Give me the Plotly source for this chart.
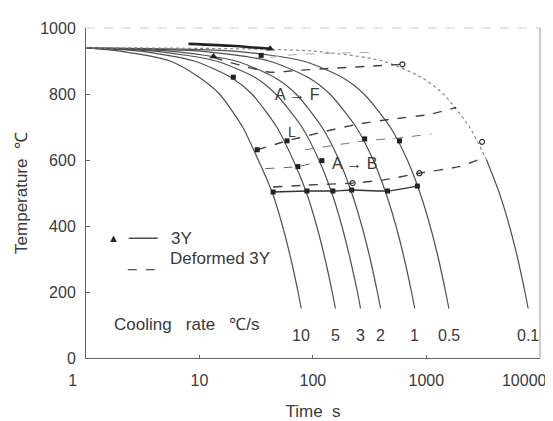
import math
import plotly.graph_objects as go

# ---------------- data ----------------
COOL_RATES = [10, 5, 3, 2, 1, 0.5, 0.1]
RATE_LABELS = ["10", "5", "3", "2", "1", "0.5", "0.1"]
COOL_TEMP = [940, 930, 900, 850, 800, 700, 600, 500, 400, 300, 200, 150]
t_r10 = [1, 2, 5.5, 10, 15, 24, 33, 44, 54, 64, 74, 79]
t_r5 = [1, 3, 9, 19, 29, 48, 67, 88, 108, 128, 148, 158]
t_r3 = [1, 4, 14, 31, 47, 80, 113, 147, 180, 213, 247, 263]
t_r2 = [1, 5.5, 21, 46, 71, 120, 170, 220, 270, 320, 370, 395]
t_r1 = [1, 10, 41, 91, 141, 240, 340, 440, 540, 640, 740, 790]
t_r05 = [1, 20, 82, 182, 282, 480, 680, 880, 1080, 1280, 1480, 1580]
t_r01 = [1, 100, 410, 910, 1410, 2400, 3400, 4400, 5400, 6400, 7400, 7900]
COOL_TIMES = [t_r10, t_r5, t_r3, t_r2, t_r1, t_r05, t_r01]

# 3Y (undeformed) transformation lines
fs3y_t = [8, 19, 42]
fs3y_T = [952, 946, 937]
ps3y_t = [85, 286, 580, 1106]
ps3y_T = [631, 658, 667, 679]
bs3y_t = [38, 74, 120]
bs3y_T = [574, 580, 598]
bf3y_t = [44.6, 88.6, 150, 220, 455, 834]
bf3y_T = [503, 506, 506, 509, 506, 521]
tri3y_t = [13.3, 42]
tri3y_T = [914, 937]
pts3y_t = [35, 19.9, 32.3, 59.2, 286, 580, 73.8, 120]
pts3y_T = [917, 851, 631, 658, 664, 658, 580, 598]

# deformed 3Y transformation lines
fsd_t = [13.3, 22.9, 42, 77, 150, 615]
fsd_T = [911, 887, 866, 872, 878, 890]
ac_t = [42, 72, 316]
ac_T = [911, 920, 926]
psd_t = [32.3, 59.2, 133, 243, 474, 1062, 1833]
psd_T = [631, 658, 688, 708, 723, 738, 759]
bsd_t = [44.6, 88.6, 224, 411, 868, 1946, 3360]
bsd_T = [518, 524, 530, 539, 560, 580, 610]
ptsd_t = [615, 3099, 224, 868]
ptsd_T = [890, 655, 530, 560]

X_TICKS = [1, 10, 100, 1000, 10000]
X_TICKTEXT = ["1", "10", "100", "1000", "10000"]
Y_TICKS = [0, 200, 400, 600, 800, 1000]

FONT = "Liberation Sans, Arial, sans-serif"
TXT = "#3a3a3a"
NB = "\u00a0"

fig = go.Figure()

for times, rate in zip(COOL_TIMES, COOL_RATES):
    if rate == COOL_RATES[-1]:
        # slowest curve: faint dotted in its upper part, solid below
        k = COOL_TEMP.index(600)
        fig.add_trace(go.Scatter(x=times[:k + 1], y=COOL_TEMP[:k + 1], mode="lines",
                                 line=dict(color="#888", width=1.2, dash="dot", shape="spline", smoothing=0.7),
                                 showlegend=False, hoverinfo="skip"))
        fig.add_trace(go.Scatter(x=times[k:], y=COOL_TEMP[k:], mode="lines",
                                 line=dict(color="#505050", width=1.2, shape="spline", smoothing=0.7),
                                 showlegend=False, hoverinfo="skip"))
    else:
        fig.add_trace(go.Scatter(x=times, y=COOL_TEMP, mode="lines",
                                 line=dict(color="#505050", width=1.2, shape="spline", smoothing=0.7),
                                 showlegend=False, hoverinfo="skip"))

def line(t, T, dash="solid", width=1.3, color="#333"):
    fig.add_trace(go.Scatter(x=t, y=T, mode="lines",
                             line=dict(color=color, width=width, dash=dash, shape="spline", smoothing=0.5),
                             showlegend=False, hoverinfo="skip"))

line(fs3y_t, fs3y_T, "solid", 2.6, "#222")
line(ps3y_t, ps3y_T, "dash", 1.0, "#777")
line(bs3y_t, bs3y_T, "dash", 1.0, "#666")
line(bf3y_t, bf3y_T, "solid", 1.4, "#333")
line(fsd_t, fsd_T, "dash", 1.4, "#444")
line(ac_t, ac_T, "dash", 1.0, "#aaa")
line(psd_t, psd_T, "dash", 1.4, "#444")
line(bsd_t, bsd_T, "dash", 1.4, "#444")

fig.add_trace(go.Scatter(x=tri3y_t, y=tri3y_T, mode="markers",
                         marker=dict(symbol="triangle-up", size=7, color="#222"),
                         showlegend=False, hoverinfo="skip"))
fig.add_trace(go.Scatter(x=pts3y_t, y=pts3y_T, mode="markers",
                         marker=dict(symbol="square", size=5, color="#222"),
                         showlegend=False, hoverinfo="skip"))
fig.add_trace(go.Scatter(x=bf3y_t, y=bf3y_T, mode="markers",
                         marker=dict(symbol="square", size=5, color="#222"),
                         showlegend=False, hoverinfo="skip"))
fig.add_trace(go.Scatter(x=ptsd_t, y=ptsd_T, mode="markers",
                         marker=dict(symbol="circle-open", size=5, color="#333", line=dict(width=1.2)),
                         showlegend=False, hoverinfo="skip"))

ann = []
# region labels
ann.append(dict(x=1.86, y=798, xref="x", yref="y", text="A → F", showarrow=False,
                xanchor="center", font=dict(size=16, color=TXT, family=FONT)))
ann.append(dict(x=1.816, y=685, xref="x", yref="y", text="L", showarrow=False,
                xanchor="center", font=dict(size=14, color=TXT, family=FONT)))
ann.append(dict(x=2.368, y=589, xref="x", yref="y", text="A → B", showarrow=False,
                xanchor="center", font=dict(size=16, color=TXT, family=FONT)))
# cooling-rate labels at the ends of the curves
for times, lab in zip(COOL_TIMES, RATE_LABELS):
    ann.append(dict(x=math.log10(times[-1]), y=68, xref="x", yref="y", text=lab, showarrow=False,
                    xanchor="center", font=dict(size=16, color=TXT, family=FONT)))
ann.append(dict(x=0.222, y=0.068, xref="paper", yref="paper", text="Cooling   rate   ℃/s",
                xanchor="center", showarrow=False, font=dict(size=17, color=TXT, family=FONT)))
# manual legend
ann.append(dict(x=0.0615, y=0.363, xref="paper", yref="paper", text="▲", showarrow=False,
                xanchor="center", font=dict(size=11, color="#222", family=FONT)))
ann.append(dict(x=0.182, y=0.363, xref="paper", yref="paper", text="3Y", showarrow=False,
                xanchor="left", font=dict(size=17, color=TXT, family=FONT)))
ann.append(dict(x=0.180, y=0.268, xref="paper", yref="paper", text="Deformed 3Y", showarrow=False,
                xanchor="left", font=dict(size=17, color=TXT, family=FONT)))

shapes = [
    dict(type="line", xref="paper", yref="paper", x0=0.094, x1=0.158, y0=0.363, y1=0.363,
         line=dict(color="#333", width=1.3)),
    dict(type="line", xref="paper", yref="paper", x0=0.092, x1=0.171, y0=0.268, y1=0.268,
         line=dict(color="#555", width=1.2, dash="dash")),
    dict(type="line", xref="paper", yref="paper", x0=1, x1=1, y0=0, y1=1,
         line=dict(color="#999", width=1)),
    dict(type="line", xref="paper", yref="paper", x0=0, x1=1, y0=1, y1=1,
         line=dict(color="#ccc", width=1, dash="dash")),
]

# trailing spaces nudge the first and last labels left (last one stays inside the page)
tick_text = ([X_TICKTEXT[0] + NB * 6] + X_TICKTEXT[1:-1]
             + [X_TICKTEXT[-1] + NB * 7])

# page body has an 8px margin; margins compensate so the plot area sits at 85..540 x 22..358
fig.update_layout(
    width=553, height=421,
    margin=dict(l=77, r=21, t=14, b=71),
    paper_bgcolor="white", plot_bgcolor="white",
    font=dict(family=FONT, color=TXT, size=16),
    annotations=ann, shapes=shapes, showlegend=False,
    xaxis=dict(type="log", range=[0, 4.002], tickvals=X_TICKS, ticktext=tick_text,
               showgrid=False, zeroline=False, showline=True, linecolor="#666", linewidth=1,
               ticks="inside", ticklen=3, tickcolor="#666", ticklabelstandoff=8,
               ticklabeloverflow="allow",
               tickfont=dict(size=16, color=TXT), automargin=False,
               title=dict(text="Time  s", font=dict(size=17, color=TXT), standoff=16)),
    yaxis=dict(range=[0, 1000], tickvals=Y_TICKS,
               showgrid=False, zeroline=False, showline=True, linecolor="#666", linewidth=1,
               ticks="inside", ticklen=4, tickcolor="#666", ticklabelstandoff=6,
               tickfont=dict(size=16, color=TXT),
               title=dict(text="Temperature  ℃", font=dict(size=17, color=TXT), standoff=8)),
)

fig.write_html("out.html")
